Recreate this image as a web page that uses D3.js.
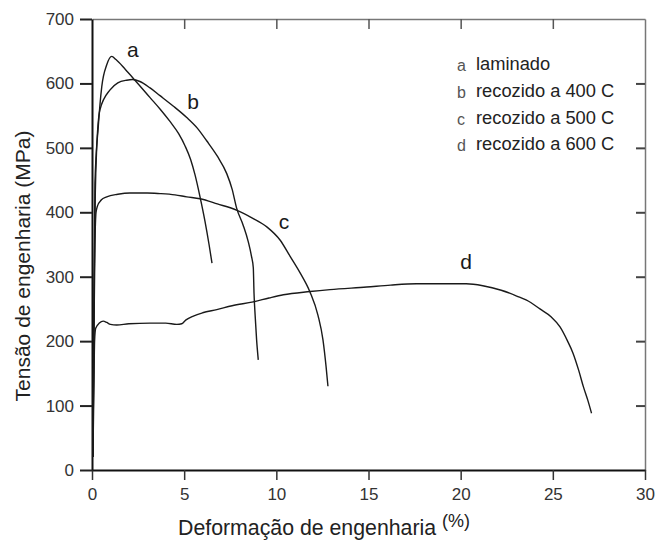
<!DOCTYPE html>
<html>
<head>
<meta charset="utf-8">
<script src="https://cdn.jsdelivr.net/npm/d3@7/dist/d3.min.js"></script>
<style>
  html, body { margin: 0; padding: 0; background: #fff; }
  svg { display: block; font-family: "Liberation Sans", Arial, sans-serif; }
</style>
</head>
<body>
<svg id="chart" width="656" height="542"></svg>
<script>
// Engineering stress–strain curves: strain (%) vs stress (MPa)
const seriesKeys = ["a", "b", "c", "d"];
const seriesNames = ["laminado", "recozido a 400 C", "recozido a 500 C", "recozido a 600 C"];

const curveA = [
  [0.05, 20], [0.1, 200], [0.16, 445], [0.34, 533], [0.53, 595], [0.8, 629],
  [1.07, 642], [1.3, 637], [1.8, 622], [2.33, 605], [3.15, 578], [3.7, 560],
  [4.23, 541], [4.7, 522], [5.05, 503], [5.35, 482], [5.59, 458], [5.86, 424],
  [6.13, 386], [6.35, 350], [6.51, 321]
];
const curveB = [
  [0.05, 20], [0.1, 250], [0.18, 430], [0.25, 497], [0.43, 559], [0.98, 590],
  [1.4, 601], [1.88, 605], [2.2, 606], [2.6, 603], [3.15, 593], [3.69, 581],
  [4.4, 565], [5.14, 547], [5.7, 531], [6.22, 511], [6.8, 487], [7.31, 460],
  [7.6, 436], [7.85, 406], [8.2, 380], [8.48, 354], [8.65, 332], [8.75, 314],
  [8.79, 274], [8.85, 240], [8.93, 202], [9.02, 171]
];
const curveC = [
  [0.05, 20], [0.1, 200], [0.16, 350], [0.22, 400], [0.3, 410], [0.5, 419],
  [0.8, 424], [1.4, 428], [2.06, 430], [3.0, 430], [3.69, 429], [4.5, 427],
  [5.14, 424], [5.86, 421], [6.8, 413], [7.87, 403], [8.7, 391], [9.5, 377],
  [10.2, 357], [10.74, 332], [11.29, 306], [11.83, 276], [12.26, 240],
  [12.53, 202], [12.7, 160], [12.8, 130]
];
const curveD = [
  [0.05, 20], [0.1, 120], [0.14, 200], [0.2, 220], [0.4, 228], [0.61, 231],
  [0.8, 229], [1.0, 226], [1.34, 225], [2.0, 227], [3.15, 228], [4.0, 228],
  [4.6, 226], [4.87, 227], [5.1, 233], [5.5, 239], [6.0, 244], [6.77, 249],
  [7.6, 255], [8.75, 261], [9.6, 267], [10.38, 272], [11.83, 277], [12.91, 280],
  [14.9, 284], [16.2, 287], [17.6, 289], [19.0, 289], [20.3, 289], [21.2, 286],
  [22.2, 279], [23.04, 270], [23.8, 260], [24.3, 250], [24.9, 238], [25.39, 222],
  [25.8, 200], [26.1, 181], [26.4, 155], [26.66, 129], [26.9, 108], [27.1, 88]
];
const curves = [curveA, curveB, curveC, curveD];

const xTicks = [0, 5, 10, 15, 20, 25, 30];
const yTicks = [0, 100, 200, 300, 400, 500, 600, 700];

// curve letter anchors, in data units (strain %, MPa)
const letterAnchors = [[2.22, 653], [5.48, 572], [10.42, 386], [20.29, 323]];

const svg = d3.select("#chart");
const x = d3.scaleLinear().domain([0, 30]).range([92, 645]);
const y = d3.scaleLinear().domain([0, 700]).range([470, 19]);

// frame: top and right sides, thin grey with inward ticks
const gTop = svg.append("g").attr("transform", `translate(0,${y(700)})`)
  .call(d3.axisTop(x).tickValues(xTicks.slice(1, -1)).tickSizeInner(-10).tickSizeOuter(0).tickFormat(""));
gTop.select(".domain").attr("stroke", "#777").attr("stroke-width", 1.5);
gTop.selectAll(".tick line").attr("stroke", "#555").attr("stroke-width", 1.5);

const gRight = svg.append("g").attr("transform", `translate(${x(30)},0)`)
  .call(d3.axisRight(y).tickValues(yTicks.slice(1, -1)).tickSizeInner(-9).tickSizeOuter(0).tickFormat(""));
gRight.select(".domain").attr("stroke", "#777").attr("stroke-width", 1.5);
gRight.selectAll(".tick line").attr("stroke", "#444").attr("stroke-width", 2);

// bottom and left axes
const gBottom = svg.append("g").attr("transform", `translate(0,${y(0)})`)
  .call(d3.axisBottom(x).tickValues(xTicks).tickSizeInner(10).tickSizeOuter(0).tickPadding(8));
gBottom.select(".domain").attr("stroke", "#111").attr("stroke-width", 2);
gBottom.selectAll(".tick line").attr("stroke", "#333").attr("stroke-width", 1.5);
gBottom.selectAll(".tick text").attr("font-size", 17).attr("fill", "#333")
  .attr("font-family", "Liberation Sans, Arial, sans-serif");

const gLeft = svg.append("g").attr("transform", `translate(${x(0)},0)`)
  .call(d3.axisLeft(y).tickValues(yTicks).tickSizeInner(12).tickSizeOuter(0).tickPadding(6));
gLeft.select(".domain").attr("stroke", "#111").attr("stroke-width", 2);
gLeft.selectAll(".tick line").attr("stroke", "#222").attr("stroke-width", 2);
gLeft.selectAll(".tick text").attr("font-size", 17).attr("fill", "#333")
  .attr("font-family", "Liberation Sans, Arial, sans-serif");

// axis titles
svg.append("text")
  .attr("transform", `translate(30,${266}) rotate(-90)`)
  .attr("text-anchor", "middle")
  .attr("font-size", 21).attr("fill", "#222")
  .text("Tensão de engenharia (MPa)");

const xt = svg.append("text")
  .attr("x", 178).attr("y", 535)
  .attr("font-size", 21.3).attr("fill", "#222");
xt.append("tspan").text("Deformação de engenharia ");
xt.append("tspan").attr("font-size", 18).attr("dy", -8).text("(%)");

// curves
const line = d3.line().x(d => x(d[0])).y(d => y(d[1])).curve(d3.curveMonotoneX);
svg.append("g").selectAll("path").data(curves).join("path")
  .attr("d", line)
  .attr("fill", "none")
  .attr("stroke", "#1a1a1a")
  .attr("stroke-width", 1.4)
  .attr("stroke-linejoin", "round");

// curve letters
svg.append("g").selectAll("text").data(letterAnchors).join("text")
  .attr("x", d => x(d[0])).attr("y", d => y(d[1]))
  .attr("text-anchor", "middle").attr("dominant-baseline", "central")
  .attr("font-size", 21).attr("fill", "#1a1a1a")
  .text((d, i) => seriesKeys[i]);

// legend
const legend = svg.append("g");
const legendBase = [70, 97, 124, 150];
seriesKeys.forEach((k, i) => {
  legend.append("text").attr("x", 457).attr("y", legendBase[i] + 1)
    .attr("font-size", 16).attr("fill", "#555").text(k);
  legend.append("text").attr("x", 476).attr("y", legendBase[i])
    .attr("font-size", 18.3).attr("fill", "#222").text(seriesNames[i]);
});
</script>
</body>
</html>
